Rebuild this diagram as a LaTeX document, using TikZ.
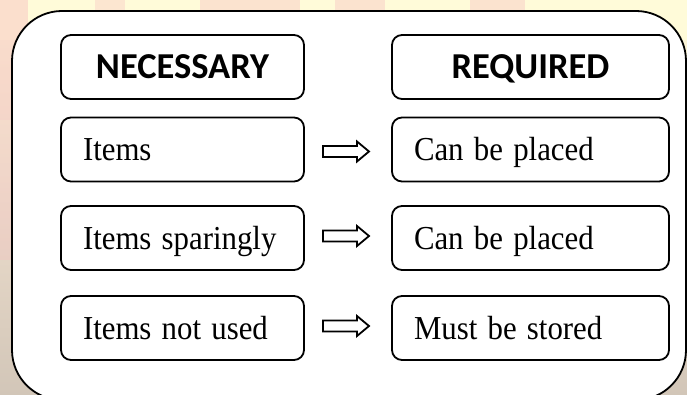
\documentclass[tikz,border=0pt]{standalone}
\usepackage{fontspec}
\usepackage{graphicx}
\setmainfont{Liberation Serif}
\newfontfamily\headfont{Carlito}
\usetikzlibrary{calc}
\newcommand\condtxt[1]{\scalebox{0.92}[1]{#1}}
\definecolor{bgtop}{HTML}{FFFBD9}
\definecolor{bgmid}{HTML}{EBDCCB}
\definecolor{bgbot}{HTML}{D2C6B8}
\definecolor{pinkblob}{HTML}{F7BFC0}
\tikzset{
  cell/.style={draw, line width=1.8pt, rounded corners=10pt, fill=white,
    minimum height=64pt, inner xsep=22pt, inner ysep=0pt,
    text height=22pt, text depth=0pt, align=left,
    execute at begin node={\hyphenpenalty=10000\exhyphenpenalty=10000},
    font=\fontsize{33.5pt}{40pt}\selectfont},
  leftcell/.style={cell, text width=199pt},
  rightcell/.style={cell, text width=233pt},
  headcell/.style={cell, text height=23pt, align=center,
    font=\headfont\bfseries\fontsize{36.5pt}{42pt}\selectfont},
  blockarr/.pic={
    \draw[line width=1.8pt, fill=white, line join=miter]
      (-23,-5.5) -- (11,-5.5) -- (11,-10) -- (23,0) -- (11,10) -- (11,5.5) -- (-23,5.5) -- cycle;
  }
}
\begin{document}
\begin{tikzpicture}[x=1pt, y=-1pt]
\useasboundingbox (0,0) rectangle (687,395);
\clip (0,0) rectangle (687,395);
% background
\shade[top color=bgtop, bottom color=bgbot, middle color=bgmid] (0,0) rectangle (687,395);
\fill[bgtop] (0,0) rectangle (687,40);
\fill[pinkblob, opacity=0.45] (0,0) rectangle (28,120);
\fill[pinkblob, opacity=0.35] (95,0) rectangle (125,30);
\fill[pinkblob, opacity=0.4] (200,0) rectangle (300,20);
\fill[pinkblob, opacity=0.4] (335,0) rectangle (385,22);
\fill[pinkblob, opacity=0.4] (470,0) rectangle (525,22);
\fill[pinkblob, opacity=0.3] (0,120) rectangle (12,260);
% outer frame
\draw[line width=1.8pt, fill=white, rounded corners=50pt] (12,11) rectangle (686,400);
% boxes
\node[headcell, minimum width=243pt, text width=199pt] (nec) at (182.5,67) {NECESSARY};
\node[headcell, minimum width=277pt, text width=233pt] (req) at (530.5,67) {REQUIRED};
\node[leftcell]  (i1) at (182.5,149.5) {\condtxt{Items}};
\node[rightcell] (c1) at (530.5,149.5) {\condtxt{Can be placed}};
\node[leftcell]  (i2) at (182.5,238) {\condtxt{Items sparingly}};
\node[rightcell] (c2) at (530.5,238) {\condtxt{Can be placed}};
\node[leftcell]  (i3) at (182.5,328) {\condtxt{Items not used}};
\node[rightcell] (c3) at (530.5,328) {\condtxt{Must be stored}};
% arrows
\coordinate (a1) at ($(i1.east)!0.5!(c1.west)+(-2,2)$);
\coordinate (a2) at ($(i2.east)!0.5!(c2.west)+(-2,-2)$);
\coordinate (a3) at ($(i3.east)!0.5!(c3.west)+(-2,-2)$);
\pic at (a1) {blockarr};
\pic at (a2) {blockarr};
\pic at (a3) {blockarr};
\end{tikzpicture}
\end{document}
